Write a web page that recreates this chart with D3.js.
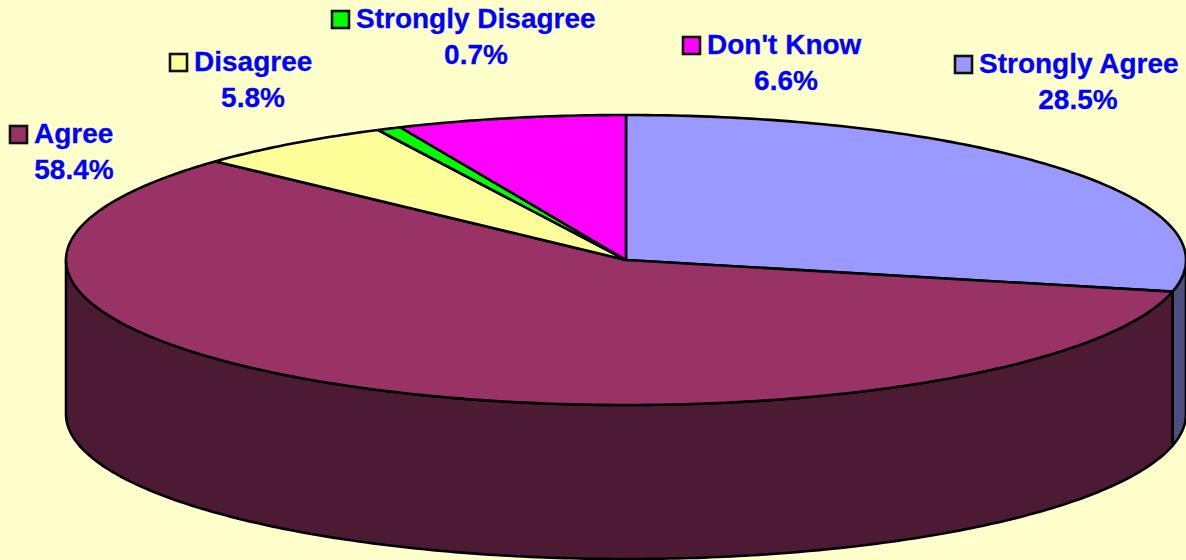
<!DOCTYPE html>
<html lang="en">
<head>
<meta charset="utf-8">
<title>Agreement pie</title>
<script src="https://cdnjs.cloudflare.com/ajax/libs/d3/7.8.5/d3.min.js"></script>
<style>
    html, body { margin: 0; padding: 0; background: #ffffcc; overflow: hidden; }
    svg { display: block; }
    text { font-family: "Liberation Sans", Arial, sans-serif; font-weight: bold; font-size: 28px; fill: #0000ff; stroke: #0000ff; stroke-width: 0.3px; }
</style>
</head>
<body>
<div id="chart"></div>
<script>
    // clockwise from 12 o'clock, same order as the picture
    const categories = ["Strongly Agree", "Agree", "Disagree", "Strongly Disagree", "Don't Know"];
    const percents = [28.5, 58.4, 5.8, 0.7, 6.6];

    const topColors = ["#9999ff", "#993366", "#ffff99", "#00ff00", "#ff00ff"];
    const sideColors = ["#4d4d80", "#4d1a33", "#808050", "#008000", "#800080"];

    // where each label sits: key left x, name baseline, centre of the percent
    const keyX = [955, 10, 170, 332, 683];
    const nameY = [73, 143, 71, 28, 54];
    const pctCentre = [1078, 74, 253, 476, 786];

    const width = 1186, height = 560;
    const depth = 154;

    const x = d3.scaleLinear().domain([-1, 1]).range([66, 1186]);
    const y = d3.scaleLinear().domain([-1, 1]).range([115, 405]);

    const svg = d3.select("#chart").append("svg")
        .attr("width", width)
        .attr("height", height);

    const pie = d3.pie().sort(null);
    const slices = pie(percents);

    const line = d3.line().x(d => d[0]).y(d => d[1]);

    // point on the tilted rim for an angle measured clockwise from the top
    function rim(a, drop) {
        return [x(Math.sin(a)), y(-Math.cos(a)) + (drop || 0)];
    }

    function arcPoints(a0, a1, drop) {
        const n = Math.max(2, Math.ceil((a1 - a0) * 80));
        return d3.range(n + 1).map(i => rim(a0 + (a1 - a0) * i / n, drop));
    }

    // walls, only the part of the rim facing us (90deg to 270deg)
    slices.forEach((s, i) => {
        const a0 = Math.max(s.startAngle, Math.PI / 2);
        const a1 = Math.min(s.endAngle, Math.PI * 1.5);
        if (a1 <= a0) return;
        const pts = arcPoints(a0, a1, 0).concat(arcPoints(a0, a1, depth).reverse());
        svg.append("path")
            .attr("d", line(pts) + "Z")
            .attr("fill", sideColors[i])
            .attr("stroke", "#000")
            .attr("stroke-width", 2.6)
            .attr("stroke-linejoin", "round");
    });

    // top of the pie
    slices.forEach((s, i) => {
        const pts = [[x(0), y(0)]].concat(arcPoints(s.startAngle, s.endAngle, 0));
        svg.append("path")
            .attr("d", line(pts) + "Z")
            .attr("fill", topColors[i])
            .attr("stroke", "#000")
            .attr("stroke-width", 2.6)
            .attr("stroke-linejoin", "round");
    });

    // labels
    categories.forEach((c, i) => {
        svg.append("rect")
            .attr("x", keyX[i])
            .attr("y", nameY[i] - 17)
            .attr("width", 17)
            .attr("height", 17)
            .attr("fill", topColors[i])
            .attr("stroke", "#111")
            .attr("stroke-width", 2.6);
        svg.append("text")
            .attr("x", keyX[i] + 24)
            .attr("y", nameY[i])
            .text(c);
        svg.append("text")
            .attr("x", pctCentre[i])
            .attr("y", nameY[i] + 36)
            .attr("text-anchor", "middle")
            .text(percents[i].toFixed(1) + "%");
    });
</script>
</body>
</html>
